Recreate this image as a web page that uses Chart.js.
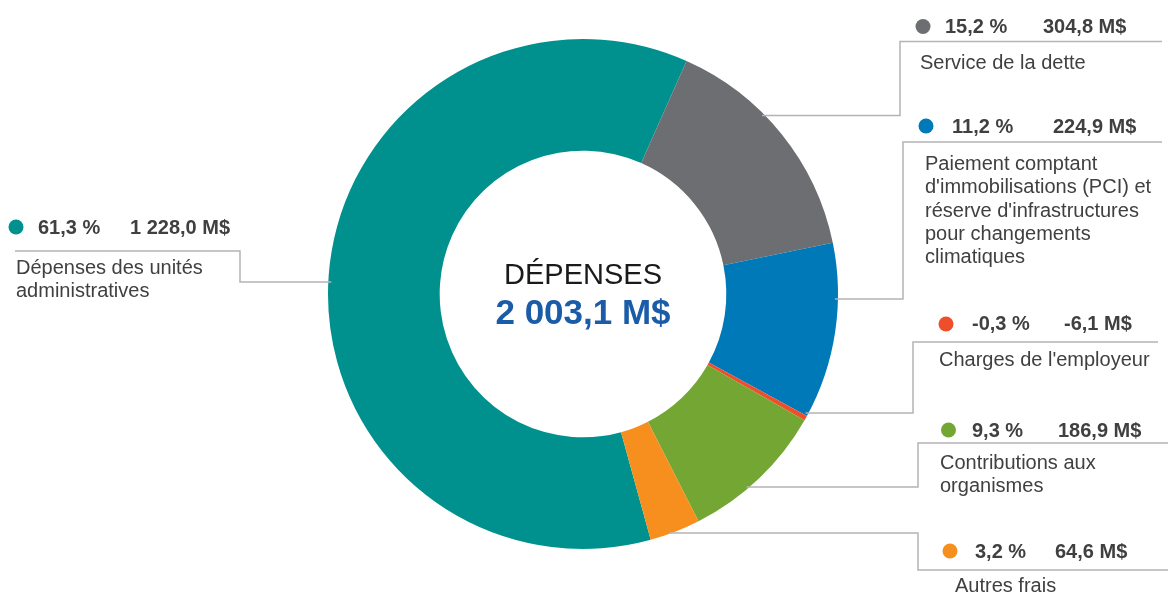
<!DOCTYPE html>
<html lang="fr">
<head>
<meta charset="utf-8">
<title>Dépenses</title>
<script src="https://cdn.jsdelivr.net/npm/chart.js@4.4.1/dist/chart.umd.min.js"></script>
<style>
    html, body { margin: 0; padding: 0; background: #ffffff; }
    #wrap { width: 1168px; height: 595px; }
</style>
</head>
<body>
<div id="wrap"><canvas id="donutChart" width="1168" height="595"></canvas></div>
<script>
// Data
const categories = [
    'Dépenses des unités administratives',
    'Service de la dette',
    "Paiement comptant d'immobilisations (PCI) et réserve d'infrastructures pour changements climatiques",
    "Charges de l'employeur",
    'Contributions aux organismes',
    'Autres frais'
];
const labelLines = [
    ['Dépenses des unités', 'administratives'],
    ['Service de la dette'],
    ['Paiement comptant', "d'immobilisations (PCI) et", "réserve d'infrastructures", 'pour changements', 'climatiques'],
    ["Charges de l'employeur"],
    ['Contributions aux', 'organismes'],
    ['Autres frais']
];
const amounts = [1228.0, 304.8, 224.9, -6.1, 186.9, 64.6];   // M$
const sliceColors = ['#00918e', '#6d6e71', '#0079b8', '#ef4e2a', '#73a633', '#f78f1e'];
const centerTitle = 'DÉPENSES';

const total = amounts.reduce((a, b) => a + b, 0);

function formatNumber(v) {
    const neg = v < 0;
    let [int, dec] = Math.abs(v).toFixed(1).split('.');
    int = int.replace(/\B(?=(\d{3})+(?!\d))/g, ' ');
    return (neg ? '-' : '') + int + ',' + dec;
}

// Callout layout (positions only)
const callouts = [
    { dot: [16, 227], pctX: 38, valX: 130, baseY: 233.5, labelX: 16, labelY: 273.5,
      leader: [[15, 251], [240, 251], [240, 282], ['arc', 282, -1]] },
    { dot: [923, 26.5], pctX: 945, valX: 1043, baseY: 33, labelX: 920, labelY: 68.5,
      leader: [[1162, 41.5], [900, 41.5], [900, 115.5], ['arc', 115.5, 1]] },
    { dot: [926, 126], pctX: 952, valX: 1053, baseY: 132.5, labelX: 925, labelY: 170,
      leader: [[1162, 142], [903, 142], [903, 299], ['arc', 299, 1]] },
    { dot: [946, 324], pctX: 972, valX: 1064, baseY: 330, labelX: 939, labelY: 366,
      leader: [[1158, 342], [913, 342], [913, 413], ['arc', 413, 1]] },
    { dot: [948.5, 430], pctX: 972, valX: 1058, baseY: 436.5, labelX: 940, labelY: 468.5,
      leader: [[1168, 443], [918, 443], [918, 487], ['arc', 487, 1]] },
    { dot: [950, 551], pctX: 975, valX: 1055, baseY: 558, labelX: 955, labelY: 592,
      leader: [['arc', 533, 1], [918, 533], [918, 570], [1168, 570]] }
];

const calloutPlugin = {
    id: 'callouts',
    afterDraw(chart) {
        const ctx = chart.ctx;
        const arc = chart.getDatasetMeta(0).data[0];
        const cx = arc.x, cy = arc.y, R = arc.outerRadius;

        ctx.save();
        // leader lines
        ctx.strokeStyle = '#b4b4b4';
        ctx.lineWidth = 1.5;
        callouts.forEach(c => {
            ctx.beginPath();
            c.leader.forEach((p, i) => {
                let x = p[0], y = p[1];
                if (x === 'arc') {
                    const dy = y - cy;
                    x = cx + p[2] * (Math.sqrt(Math.max(R * R - dy * dy, 0)) - 3);
                }
                if (i === 0) ctx.moveTo(x, y); else ctx.lineTo(x, y);
            });
            ctx.stroke();
        });

        // headers + labels
        callouts.forEach((c, i) => {
            ctx.fillStyle = sliceColors[i];
            ctx.beginPath();
            ctx.arc(c.dot[0], c.dot[1], 7.5, 0, Math.PI * 2);
            ctx.fill();

            const pct = amounts[i] / total * 100;
            ctx.fillStyle = '#404040';
            ctx.textAlign = 'left';
            ctx.textBaseline = 'alphabetic';
            ctx.font = 'bold 20px "Liberation Sans", Arial, sans-serif';
            ctx.fillText(formatNumber(pct) + ' %', c.pctX, c.baseY);
            ctx.fillText(formatNumber(amounts[i]) + ' M$', c.valX, c.baseY);

            ctx.font = '20px "Liberation Sans", Arial, sans-serif';
            labelLines[i].forEach((line, k) => {
                ctx.fillText(line, c.labelX, c.labelY + k * 23.3);
            });
        });

        // center text
        ctx.textAlign = 'center';
        ctx.fillStyle = '#1a1a1a';
        ctx.font = '29px "Liberation Sans", Arial, sans-serif';
        ctx.fillText(centerTitle, cx, 283.5);
        ctx.fillStyle = '#1b5ca8';
        ctx.font = 'bold 35px "Liberation Sans", Arial, sans-serif';
        ctx.fillText(formatNumber(total) + ' M$', cx, 323.5);
        ctx.restore();
    }
};

new Chart(document.getElementById('donutChart').getContext('2d'), {
    type: 'doughnut',
    data: {
        labels: categories,
        datasets: [{
            data: amounts,
            backgroundColor: sliceColors,
            borderWidth: 0,
            hoverOffset: 0
        }]
    },
    options: {
        responsive: false,
        animation: false,
        rotation: 164.6,
        cutout: '56.2%',
        layout: {
            padding: { top: 39, bottom: 46, left: 328, right: 330 }
        },
        plugins: {
            legend: { display: false },
            tooltip: { enabled: false }
        }
    },
    plugins: [calloutPlugin]
});
</script>
</body>
</html>
